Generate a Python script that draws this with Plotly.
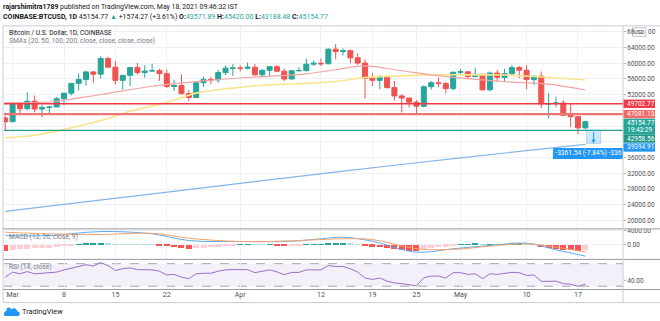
import plotly.graph_objects as go
import pandas as pd

W, H = 660, 321

# ---------------- data ----------------
dates = pd.date_range("2021-02-28", "2021-05-18", freq="D")

opens = [46100, 45137, 49600, 48440, 50350, 48360, 48760, 48880, 50970, 52380,
         54890, 55860, 57800, 57230, 61190, 59000, 55650, 56930, 58900, 57650,
         58030, 58100, 57350, 54100, 54350, 52300, 51300, 55050, 55850, 55780,
         57630, 58740, 58800, 58730, 58990, 57060, 58200, 59130, 57990, 56000,
         58100, 58150, 59770, 59990, 59860, 63580, 62960, 63200, 61380, 60050,
         56200, 55650, 56450, 53800, 51700, 51150, 50110, 49070, 54030, 55030,
         54860, 53570, 57700, 57830, 56600, 57200, 53240, 57500, 56400, 57350,
         58900, 58240, 55850, 56700, 49650, 49700, 49900, 46760, 46430, 43571.89]
highs = [46640, 49790, 50200, 52640, 51800, 49450, 49200, 51450, 52400, 54900,
         57400, 58100, 58000, 61800, 61700, 60600, 56950, 58980, 60100, 59500,
         59900, 58600, 58400, 55800, 57200, 53250, 55100, 56600, 56600, 58400,
         59400, 59800, 59500, 60200, 59800, 58500, 59300, 59500, 58650, 58200,
         59000, 61200, 60700, 61200, 63800, 64900, 63800, 63500, 62500, 61000,
         57500, 57000, 56800, 55500, 52100, 51200, 50600, 54400, 55500, 56400,
         55200, 57900, 58500, 57900, 58900, 57250, 57900, 58300, 58600, 59500,
         59300, 59500, 56900, 57900, 52400, 51500, 50600, 49800, 46600, 45420.00]
lows = [43000, 45000, 47050, 48100, 47500, 46300, 47100, 48880, 49300, 51850,
        53030, 54300, 55000, 56100, 59000, 54600, 53300, 54200, 57100, 56300,
        57800, 55500, 53700, 53000, 52000, 50400, 51300, 53950, 54700, 55000,
        57000, 56800, 57900, 58450, 56900, 56500, 56800, 57700, 55500, 55950,
        57700, 57850, 59300, 59350, 59800, 61000, 62000, 60000, 59600, 51000,
        54200, 53400, 53600, 50500, 47500, 48800, 47000, 48800, 53300, 53900,
        52300, 53100, 57000, 56000, 56500, 53000, 52900, 55300, 55300, 56900,
        56200, 53400, 54500, 48600, 46000, 48800, 46600, 43800, 42000, 43188.48]
closes = [45137, 49600, 48440, 50350, 48360, 48760, 48880, 50970, 52380, 54890,
          55860, 57800, 57230, 61190, 59000, 55650, 56930, 58900, 57650, 58030,
          58100, 57350, 54100, 54350, 52300, 51300, 55050, 55850, 55780, 57630,
          58740, 58800, 58730, 58990, 57060, 58200, 59130, 57990, 56000, 58100,
          58150, 59770, 59990, 59860, 63580, 62960, 63200, 61380, 60050, 56200,
          55650, 56450, 53800, 51700, 51150, 50110, 49070, 54030, 55030, 54860,
          53570, 57700, 57830, 56600, 57200, 53240, 57500, 56400, 57350, 58900,
          58240, 55850, 56700, 49650, 49700, 49900, 46760, 46430, 43580, 45154.77]

sma20_dates = ["2021-02-28", "2021-03-06", "2021-03-13", "2021-03-20", "2021-03-27",
               "2021-04-03", "2021-04-10", "2021-04-14", "2021-04-18", "2021-04-23",
               "2021-04-28", "2021-05-03", "2021-05-08", "2021-05-13", "2021-05-18"]
sma20 = [50000, 50150, 52050, 54150, 55500, 56500, 57300, 58350, 59350, 58100,
         56850, 55900, 55200, 54700, 53200]
sma50_dates = ["2021-02-28", "2021-03-04", "2021-03-08", "2021-03-13", "2021-03-17",
               "2021-03-22", "2021-03-26", "2021-03-31", "2021-04-05", "2021-04-09",
               "2021-04-14", "2021-04-18", "2021-04-23", "2021-04-27", "2021-05-02",
               "2021-05-07", "2021-05-11", "2021-05-18"]
sma50 = [41040, 41720, 43160, 45430, 47780, 50060, 52410, 53670, 54530, 54780,
         55360, 56370, 56800, 57050, 57050, 57000, 56620, 55740]
sma200_dates = ["2021-02-28", "2021-03-14", "2021-04-01", "2021-04-13", "2021-05-01", "2021-05-18"]
sma200 = [22350, 25470, 29470, 32140, 35950, 39394.91]

level_values = [49702.77, 47081.13, 42958.56]
measure_from = 42958.56
measure_to = 39597.02
measure_text = "-3361.54 (-7.84%) -3361"

macd_dates = ["2021-02-28", "2021-03-06", "2021-03-13", "2021-03-20", "2021-03-25",
              "2021-04-01", "2021-04-08", "2021-04-12", "2021-04-15", "2021-04-19",
              "2021-04-25", "2021-04-30", "2021-05-05", "2021-05-10", "2021-05-14", "2021-05-18"]
macd = [2600, 2600, 3720, 3080, 1200, 920, 1000, 1680, 2130, 1000,
        -2070, -1120, -200, 450, -1400, -3190]
signal = [3520, 3080, 2880, 3240, 1850, 920, 1120, 1480, 1680, 1480,
          -1120, -1310, -390, 280, -670, -2070]
hist = [-1600,
        -1400, -1250, -1100, -1000, -900, -750, -550, -350, -100,
        150, 300, 400, 600,
        450, 250, 180, 150, 100, 60, 30,
        -100, -400, -650, -900, -1050,
        -950, -800, -650, -450, -250, -100,
        60, 120, 50, 30, 60, -30, -150, -100, -60, 20, 80, 150,
        400, 500, 550, 400, 200,
        -250, -500, -650, -900, -1200, -1450, -1650, -1750,
        -1350, -1000, -700, -450, -150,
        150, 250, 300, 100, 200, 180, 250, 350, 380, 250, 150,
        -700, -1000, -1200, -1350, -1450, -1600,
        -1550]
rsi = [46,
       55, 52, 56, 52, 53, 53, 55, 59, 62, 65, 68, 66, 72, 66.5, 58, 61, 62.5, 59.5, 59.5,
       59, 56.6, 50, 51, 46, 43.4, 52, 53, 53, 56.6, 59, 59.5,
       59, 59.5, 54, 56.6, 59, 55.5, 50.3, 54.5, 54.5, 59, 59.5, 59, 66.5, 65, 65, 61, 55,
       44.5, 42, 44.5, 39, 35.8, 34.6, 33, 30.6, 45, 48, 48, 44.5, 54,
       54, 51, 52, 43.4, 52, 51, 53, 54.5, 54, 49, 50, 38.7, 38.7, 39, 34.6, 33.5, 30, 33.5]

tick_dates = ["2021-03-01", "2021-03-08", "2021-03-15", "2021-03-22", "2021-04-01",
              "2021-04-12", "2021-04-19", "2021-04-25", "2021-05-01", "2021-05-10", "2021-05-17"]
tick_labels = ["Mar", "8", "15", "22", "Apr", "12", "19", "25", "May", "10", "17"]
price_ticks = [20000, 24000, 28000, 32000, 36000, 40000, 44000, 48000, 52000, 56000, 60000, 64000, 68000]
price_tick_text = ["20000.00", "24000.00", "28000.00", "32000.00", "36000.00", "", "", "",
                   "52000.00", "56000.00", "60000.00", "64000.00", ""]

# ---------------- helpers ----------------
def PX(x):
    return x / W

def PY(y):
    return 1 - y / H

FONT = "Roboto"
TXT = "#131722"
GRAY = "#787b86"
UP = "#26a69a"
DN = "#ef5350"
GRID = "#eef0f5"
FRAME = "#b2b5be"
AXSIZE = 6.5

fig = go.Figure()

# SMAs
fig.add_trace(go.Scatter(x=sma200_dates, y=sma200, mode="lines", line=dict(color="#86b4ea", width=1.2, shape="spline"), yaxis="y", xaxis="x"))
fig.add_trace(go.Scatter(x=sma50_dates, y=sma50, mode="lines", line=dict(color="#f8e58c", width=1.6, shape="spline"), yaxis="y", xaxis="x"))
fig.add_trace(go.Scatter(x=sma20_dates, y=sma20, mode="lines", line=dict(color="#f3a3a3", width=1.2, shape="spline"), yaxis="y", xaxis="x"))

# candles
fig.add_trace(go.Candlestick(
    x=dates, open=opens, high=highs, low=lows, close=closes,
    increasing=dict(line=dict(color=UP, width=1), fillcolor=UP),
    decreasing=dict(line=dict(color=DN, width=1), fillcolor=DN),
    whiskerwidth=0, yaxis="y", xaxis="x"))

# measure label text (clipped by the plot area like the reference)
fig.add_trace(go.Scatter(x=["2021-05-13 22:00"], y=[37022], mode="text", text=[measure_text],
                         textposition="middle right", cliponaxis=True,
                         textfont=dict(family=FONT, size=6.6, color="white"), yaxis="y", xaxis="x"))

# MACD histogram colors
hcolors = []
for i, v in enumerate(hist):
    prev = hist[i - 1] if i > 0 else v + 1 if v < 0 else v - 1
    if v >= 0:
        hcolors.append("#26a69a" if v >= prev else "#b2dfdb")
    else:
        hcolors.append("#ff5252" if v <= prev else "#ffcdd2")
fig.add_trace(go.Bar(x=dates, y=hist, marker=dict(color=hcolors, line=dict(width=0)),
                     width=0.82 * 86400000, yaxis="y2", xaxis="x"))
fig.add_trace(go.Scatter(x=macd_dates, y=macd, mode="lines", line=dict(color="#5aaaf0", width=1, shape="spline"), yaxis="y2", xaxis="x"))
fig.add_trace(go.Scatter(x=macd_dates, y=signal, mode="lines", line=dict(color="#f6a36a", width=1, shape="spline"), yaxis="y2", xaxis="x"))

# RSI
fig.add_trace(go.Scatter(x=dates, y=rsi, mode="lines", line=dict(color="#9b6fc9", width=1), yaxis="y3", xaxis="x"))

shapes = []
# RSI band + dashed bounds
shapes.append(dict(type="rect", xref="paper", yref="y3", x0=PX(4), x1=PX(623), y0=30, y1=70,
                   fillcolor="rgba(126,87,194,0.09)", line=dict(width=0), layer="below"))
for lv in (30, 70):
    shapes.append(dict(type="line", xref="paper", yref="y3", x0=PX(4), x1=PX(623), y0=lv, y1=lv,
                       line=dict(color="#a5a7b0", width=1, dash="dash"), layer="below"))

# measure label box (between grid and traces, clipped to plot area)
shapes.append(dict(type="rect", xref="x", yref="y", x0="2021-05-13 14:00", x1="2021-05-24 02:00",
                   y0=35659, y1=38437, fillcolor="#2196f3", line=dict(width=0), layer="between"))

# horizontal level lines
level_styles = [("#f23645", 1.3), ("#f07474", 2.4), ("#2a9d8f", 1.3)]
for lv, (c, w) in zip(level_values, level_styles):
    shapes.append(dict(type="line", xref="paper", yref="y", x0=PX(4), x1=PX(623), y0=lv, y1=lv,
                       line=dict(color=c, width=w), layer="above"))

# measure box
shapes.append(dict(type="rect", xref="x", yref="y", x0="2021-05-18 04:00", x1="2021-05-20 02:00",
                   y0=measure_to, y1=measure_from, fillcolor="rgba(33,150,243,0.22)",
                   line=dict(color="rgba(33,150,243,0.35)", width=0.8), layer="above"))

# frame
def hline(y, x0=3, x1=660, c=FRAME, w=1):
    shapes.append(dict(type="line", xref="paper", yref="paper", x0=PX(x0), x1=PX(x1), y0=PY(y), y1=PY(y),
                       line=dict(color=c, width=w), layer="above"))

def vline(x, y0, y1, c=FRAME, w=1):
    shapes.append(dict(type="line", xref="paper", yref="paper", x0=PX(x), x1=PX(x), y0=PY(y0), y1=PY(y1),
                       line=dict(color=c, width=w), layer="above"))

# white mask to clip the 4000.00 MACD label top
shapes.append(dict(type="rect", xref="paper", yref="paper", x0=PX(624), x1=1, y0=PY(228.3), y1=PY(225),
                   fillcolor="white", line=dict(width=0), layer="above"))
hline(24, c="#c9cbd1")
hline(228.3, c="#9598a1")
hline(259, c="#9598a1")
hline(289.3, c="#9598a1")
hline(302.5, c="#c9cbd1")
vline(3, 24, 302.5, c="#c9cbd1")
vline(623, 24, 302.5, c="#c9cbd1")

# price-axis colored labels
label_boxes = [
    (98.2, 106.6, "#f23645", ["49702.77"]),
    (108.6, 117.0, "#f26a6a", ["47081.13"]),
    (117.4, 133.2, UP, ["45154.77", "19:43:29"]),
    (133.2, 141.6, "#1f9985", ["42958.56"]),
    (142.2, 150.6, "#2196f3", ["39394.91"]),
]
annotations = []
axfont = dict(family=FONT, size=AXSIZE, color="#4c505b")
for y0, y1, c, texts in label_boxes:
    shapes.append(dict(type="rect", xref="paper", yref="paper", x0=PX(623.5), x1=PX(655), y0=PY(y1), y1=PY(y0),
                       fillcolor=c, line=dict(width=0), layer="above"))
    n = len(texts)
    for k, t in enumerate(texts):
        yc = y0 + (y1 - y0) * (k + 0.5) / n
        annotations.append(dict(xref="paper", yref="paper", x=PX(625.5), y=PY(yc), text=t, showarrow=False,
                                xanchor="left", yanchor="middle", borderpad=0,
                                font=dict(family=FONT, size=AXSIZE, color="white")))

# 68000.00 label partly hidden behind the USD badge
annotations.append(dict(xref="paper", yref="paper", x=PX(625.5), y=PY(30.4), text="68", showarrow=False,
                        xanchor="left", yanchor="middle", borderpad=0, font=axfont))
annotations.append(dict(xref="paper", yref="paper", x=PX(646.5), y=PY(30.4), text="00", showarrow=False,
                        xanchor="left", yanchor="middle", borderpad=0, font=axfont))
shapes.append(dict(type="rect", xref="paper", yref="paper", x0=PX(632.5), x1=PX(646), y0=PY(34.5), y1=PY(26),
                   fillcolor="white", line=dict(color="#b2b5be", width=0.8), layer="above"))
annotations.append(dict(xref="paper", yref="paper", x=PX(639.25), y=PY(30.2), text="USD", showarrow=False,
                        xanchor="center", yanchor="middle", borderpad=0, font=dict(family=FONT, size=5.5, color=TXT)))

# measure arrow
annotations.append(dict(xref="x", yref="y", axref="x", ayref="y", x="2021-05-19 03:00", y=measure_to,
                        ax="2021-05-19 03:00", ay=measure_from, text="", showarrow=True,
                        arrowhead=2, arrowsize=0.8, arrowwidth=1, arrowcolor="#2196f3"))

# header text
annotations.append(dict(xref="paper", yref="paper", x=PX(1), y=PY(5), xanchor="left", yanchor="middle",
                        showarrow=False, font=dict(family=FONT, size=6.9, color=TXT),
                        text="<b>rajarshimitra1789</b> published on TradingView.com, May 18, 2021 09:46:32 IST"))
G = "<span style='color:#26a69a'>%s</span>"
annotations.append(dict(xref="paper", yref="paper", x=PX(1), y=PY(15), xanchor="left", yanchor="middle",
                        showarrow=False, font=dict(family=FONT, size=7.0, color=TXT),
                        text="<b>COINBASE:BTCUSD, 1D</b> 45154.77 " + G % "▲" + " +1574.27 (+3.61%) "
                             "<b>O:</b>" + G % "43571.89" + " <b>H:</b>" + G % "45420.00" +
                             " <b>L:</b>" + G % "43188.48" + " <b>C:</b>" + G % "45154.77"))
annotations.append(dict(xref="paper", yref="paper", x=PX(7), y=PY(31), xanchor="left", yanchor="middle",
                        showarrow=False, font=dict(family=FONT, size=6.7, color=TXT),
                        text="Bitcoin / U.S. Dollar, 1D, COINBASE"))
annotations.append(dict(xref="paper", yref="paper", x=PX(7), y=PY(39.5), xanchor="left", yanchor="middle",
                        showarrow=False, font=dict(family=FONT, size=6.7, color=GRAY),
                        text="SMAs (20, 50, 100, 200, close, close, close, close)"))
annotations.append(dict(xref="paper", yref="paper", x=PX(7), y=PY(236), xanchor="left", yanchor="middle",
                        showarrow=False, font=dict(family=FONT, size=6.7, color=GRAY),
                        text="MACD (12, 26, close, 9)"))
annotations.append(dict(xref="paper", yref="paper", x=PX(7), y=PY(267), xanchor="left", yanchor="middle",
                        showarrow=False, font=dict(family=FONT, size=6.7, color=GRAY),
                        text="RSI (14, close)"))
# TradingView logo
shapes.append(dict(type="path", xref="paper", yref="paper", xsizemode="pixel", ysizemode="pixel",
                   xanchor=PX(4), yanchor=PY(316),
                   path="M1,0 L14,0 C16.5,0 16.5,4.5 13.5,4.5 C13,8 9,9 7.5,6.5 C6,10 1.5,9 2.5,5 C-0.5,5 -0.5,0 1,0 Z",
                   fillcolor="#2196f3", line=dict(width=0), layer="above"))
annotations.append(dict(xref="paper", yref="paper", x=PX(20), y=PY(311), xanchor="left", yanchor="middle",
                        showarrow=False, font=dict(family=FONT, size=7.4, color=TXT), text="TradingView"))

fig.update_layout(
    width=W, height=H, margin=dict(l=0, r=0, t=0, b=0),
    paper_bgcolor="white", plot_bgcolor="white", showlegend=False,
    boxgap=0.32, boxgroupgap=0, bargap=0,
    shapes=shapes, annotations=annotations,
    xaxis=dict(domain=[PX(4), PX(623)], anchor="y3", type="date",
               range=["2021-02-27 19:54", "2021-05-23 03:07"],
               tickvals=tick_dates, ticktext=tick_labels, tickfont=dict(family=FONT, size=7, color="#4c505b"),
               showgrid=True, gridcolor=GRID, gridwidth=1, zeroline=False, showline=False,
               ticks="", rangeslider=dict(visible=False), fixedrange=True),
    yaxis=dict(domain=[PY(228.3), PY(24)], range=[17901, 69507], side="right", anchor="x",
               tickvals=price_ticks, ticktext=price_tick_text, tickfont=axfont,
               ticks="outside", ticklen=2, tickcolor="#b2b5be",
               showgrid=True, gridcolor=GRID, zeroline=False, showline=False),
    yaxis2=dict(domain=[PY(259), PY(228.3)], range=[-4112, 4476], side="right", anchor="x",
                tickvals=[0, 4000], ticktext=["0.00", "4000.00"], tickfont=axfont,
                ticks="outside", ticklen=2, tickcolor="#b2b5be",
                showgrid=True, gridcolor=GRID, zeroline=False, showline=False),
    yaxis3=dict(domain=[PY(289.3), PY(259)], range=[24.19, 77.58], side="right", anchor="x",
                tickvals=[40], ticktext=["40.00"], tickfont=axfont,
                ticks="outside", ticklen=2, tickcolor="#b2b5be",
                showgrid=False, zeroline=False, showline=False),
)

fig.write_html("out.html")
